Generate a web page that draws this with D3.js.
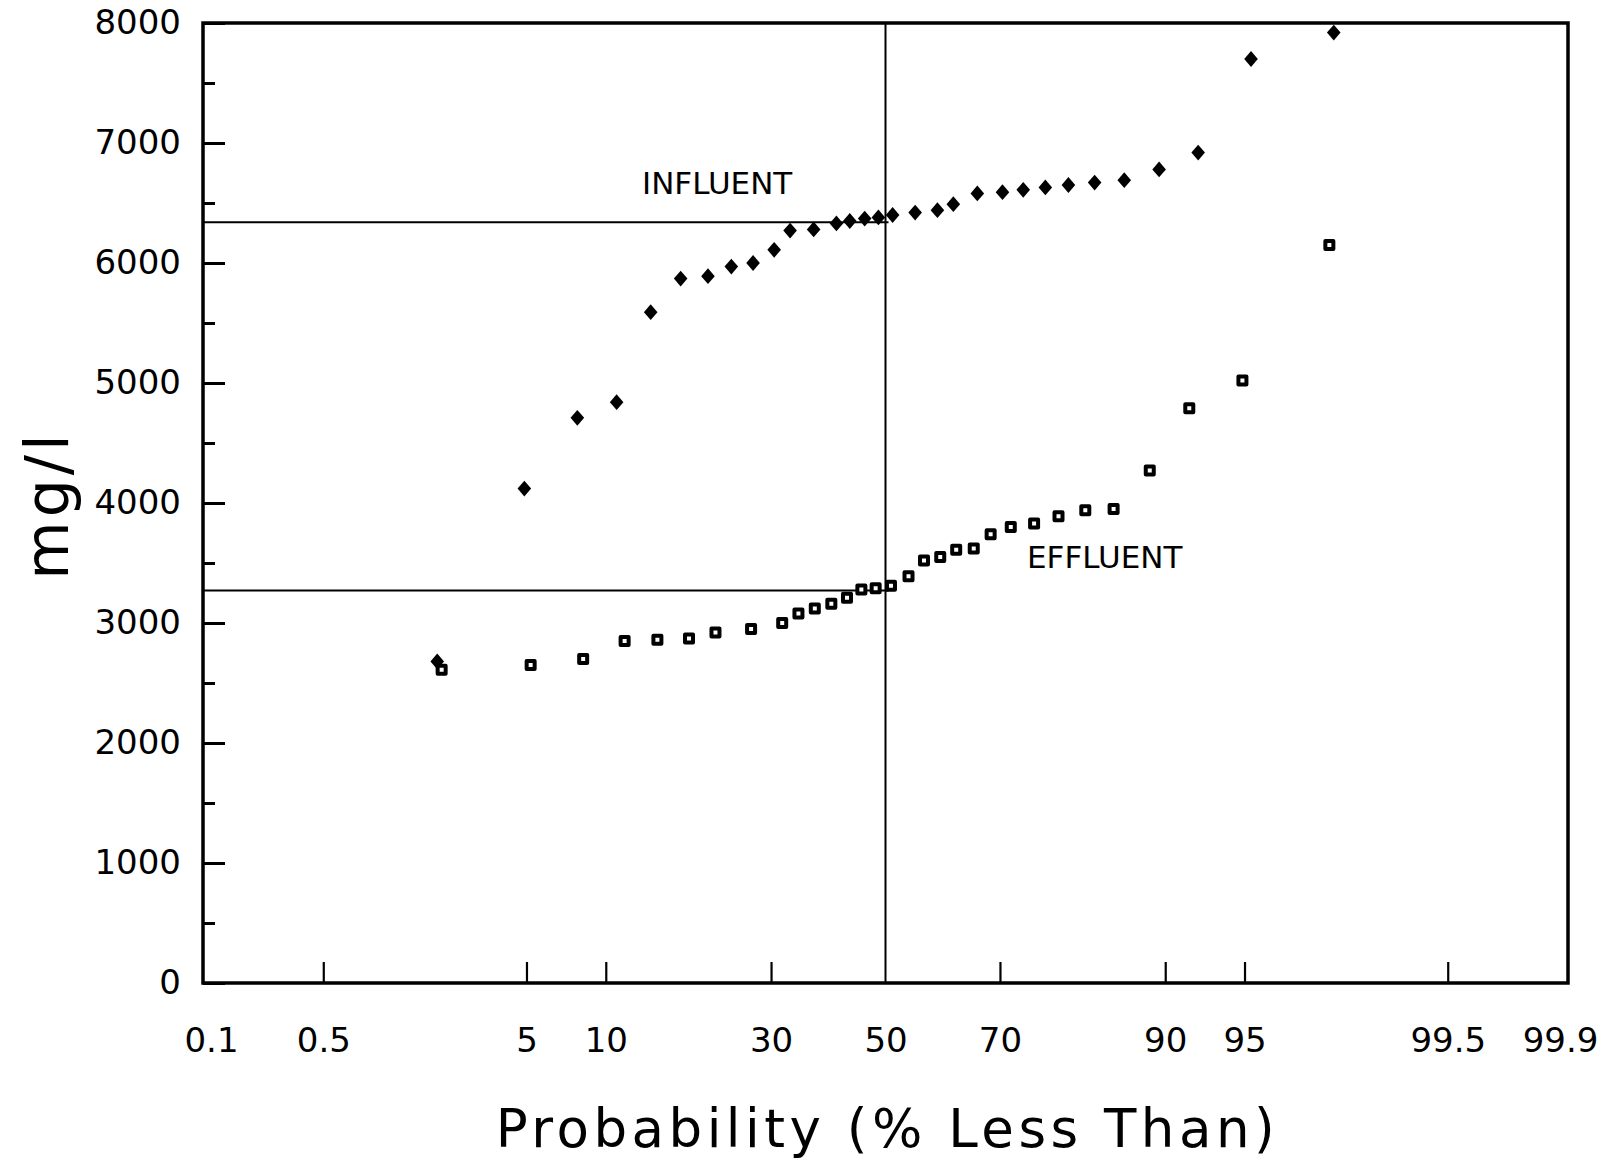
<!DOCTYPE html>
<html>
<head>
<meta charset="utf-8">
<script src="https://cdn.jsdelivr.net/npm/d3@7"></script>
<style>
  html, body { margin: 0; padding: 0; background: #fff; }
  svg { display: block; }
  text { font-family: "DejaVu Sans", "Liberation Sans", sans-serif; fill: #000; }
</style>
</head>
<body>
<svg id="chart" width="1614" height="1161"></svg>
<script>
// Cumulative probability (% less than) of each ranked sample
const influentProb = [2.0, 4.9, 7.9, 10.9, 14.1, 17.4, 20.8, 24.0, 27.2, 30.5, 33.1, 37.1, 41.1, 43.5, 46.2, 48.7,
                      51.3, 55.4, 59.4, 62.2, 66.3, 70.4, 73.6, 76.8, 79.9, 83.1, 86.3, 89.5, 92.4, 95.3, 98.0];
const influentMgL  = [2680, 4120, 4710, 4840, 5590, 5870, 5890, 5970, 6000, 6110, 6270, 6280, 6330, 6350, 6370, 6380,
                      6400, 6420, 6440, 6490, 6580, 6590, 6610, 6630, 6650, 6670, 6690, 6780, 6920, 7700, 7920];
const effluentProb = [2.1, 5.2, 8.3, 11.6, 14.8, 18.4, 21.8, 26.9, 31.8, 34.5, 37.3, 40.2, 43.0, 45.6, 48.2, 51.0,
                      54.2, 57.0, 59.9, 62.7, 65.7, 68.5, 71.7, 75.2, 78.6, 82.0, 85.2, 88.7, 91.8, 94.9, 97.9];
const effluentMgL  = [2610, 2650, 2700, 2850, 2860, 2870, 2920, 2950, 3000, 3080, 3120, 3160, 3210, 3280, 3290, 3310,
                      3390, 3520, 3550, 3610, 3620, 3740, 3800, 3830, 3890, 3940, 3950, 4270, 4790, 5020, 6150];

// Axis ticks
const probTicks = [0.1, 0.5, 5, 10, 30, 50, 70, 90, 95, 99.5, 99.9];
const probTickLabels = ["0.1", "0.5", "5", "10", "30", "50", "70", "90", "95", "99.5", "99.9"];
const concMajorTicks = [0, 1000, 2000, 3000, 4000, 5000, 6000, 7000, 8000];
const concMinorTicks = [500, 1500, 2500, 3500, 4500, 5500, 6500, 7500];

// Median guide lines
const medianProb = 50;
const influentMedian = 6340;
const effluentMedian = 3270;

// Inverse standard normal CDF (Acklam's rational approximation)
function probit(p) {
  const a = [-3.969683028665376e+01, 2.209460984245205e+02, -2.759285104469687e+02,
              1.383577518672690e+02, -3.066479806614716e+01, 2.506628277459239e+00];
  const b = [-5.447609879822406e+01, 1.615858368580409e+02, -1.556989798598866e+02,
              6.680131188771972e+01, -1.328068155288572e+01];
  const c = [-7.784894002430293e-03, -3.223964580411365e-01, -2.400758277161838e+00,
             -2.549671010283767e+00, 4.374664141464968e+00, 2.938163982698783e+00];
  const d = [7.784695709041462e-03, 3.224671290700398e-01, 2.445134137142996e+00,
             3.754408661907416e+00];
  const pl = 0.02425, ph = 1 - pl;
  let q, r;
  if (p < pl) {
    q = Math.sqrt(-2 * Math.log(p));
    return (((((c[0]*q + c[1])*q + c[2])*q + c[3])*q + c[4])*q + c[5]) /
           ((((d[0]*q + d[1])*q + d[2])*q + d[3])*q + 1);
  }
  if (p > ph) {
    q = Math.sqrt(-2 * Math.log(1 - p));
    return -(((((c[0]*q + c[1])*q + c[2])*q + c[3])*q + c[4])*q + c[5]) /
            ((((d[0]*q + d[1])*q + d[2])*q + d[3])*q + 1);
  }
  q = p - 0.5; r = q * q;
  return (((((a[0]*r + a[1])*r + a[2])*r + a[3])*r + a[4])*r + a[5]) * q /
         (((((b[0]*r + b[1])*r + b[2])*r + b[3])*r + b[4])*r + 1);
}
const z = pct => probit(pct / 100);

const plotLeft = 203, plotRight = 1568, plotTop = 23, plotBottom = 983;
const xPad = 8;   // small inset so the end labels sit just inside the frame corners

const svg = d3.select("#chart");

// Normal-probability x scale (linear in z) and linear concentration y scale
const x = d3.scaleLinear().domain([z(0.1), z(99.9)]).range([plotLeft + xPad, plotRight - xPad]);
const xp = pct => x(z(pct));
const y = d3.scaleLinear().domain([0, 8000]).range([plotBottom, plotTop]);

// Y axis: major ticks with labels, minor ticks unlabeled, all pointing inward
const yMajor = svg.append("g")
  .attr("transform", `translate(${plotLeft},0)`)
  .call(d3.axisLeft(y).tickValues(concMajorTicks).tickSize(-22).tickPadding(22).tickFormat(d3.format("d")));
yMajor.select(".domain").remove();
yMajor.selectAll("line").attr("stroke", "#000").attr("stroke-width", 3);
yMajor.selectAll("text").attr("font-size", 34).attr("font-family", "DejaVu Sans, sans-serif").attr("fill", "#000");

const yMinor = svg.append("g")
  .attr("transform", `translate(${plotLeft},0)`)
  .call(d3.axisLeft(y).tickValues(concMinorTicks).tickSize(-12).tickFormat(""));
yMinor.select(".domain").remove();
yMinor.selectAll("line").attr("stroke", "#000").attr("stroke-width", 3);

// X axis on the probability scale; the end values coincide with the frame, 50 with the guide line
const xAxis = svg.append("g")
  .attr("transform", `translate(0,${plotBottom})`)
  .call(d3.axisBottom(x)
    .tickValues(probTicks.map(z))
    .tickSize(-21)
    .tickPadding(45)
    .tickFormat((d, i) => probTickLabels[i]));
xAxis.select(".domain").remove();
xAxis.selectAll(".tick line")
  .attr("stroke", "#000").attr("stroke-width", 2.2)
  .attr("display", (d, i) => (i === 0 || i === probTicks.length - 1 || probTicks[i] === medianProb) ? "none" : null);
xAxis.selectAll("text").attr("font-size", 34).attr("font-family", "DejaVu Sans, sans-serif").attr("fill", "#000");

// Plot frame
svg.append("rect")
  .attr("x", plotLeft).attr("y", plotTop)
  .attr("width", plotRight - plotLeft).attr("height", plotBottom - plotTop)
  .attr("fill", "none").attr("stroke", "#000").attr("stroke-width", 3.5);

// Median guide lines
svg.append("line")
  .attr("x1", xp(medianProb)).attr("x2", xp(medianProb))
  .attr("y1", y(0)).attr("y2", y(8000))
  .attr("stroke", "#000").attr("stroke-width", 2);
svg.append("line")
  .attr("x1", plotLeft).attr("x2", xp(medianProb) + 3)
  .attr("y1", y(influentMedian)).attr("y2", y(influentMedian))
  .attr("stroke", "#000").attr("stroke-width", 2);
svg.append("line")
  .attr("x1", plotLeft).attr("x2", xp(medianProb) + 3)
  .attr("y1", y(effluentMedian)).attr("y2", y(effluentMedian))
  .attr("stroke", "#000").attr("stroke-width", 2);

// Filled diamond marker, slightly taller than wide
const diamond = {
  draw(ctx, size) {
    const r = Math.sqrt(size);
    const w = r * 0.5, h = r * 0.58;
    ctx.moveTo(0, -h); ctx.lineTo(w, 0); ctx.lineTo(0, h); ctx.lineTo(-w, 0); ctx.closePath();
  }
};

const influent = influentProb.map((p, i) => ({ p, v: influentMgL[i] }));
const effluent = effluentProb.map((p, i) => ({ p, v: effluentMgL[i] }));

svg.append("g").selectAll("path")
  .data(influent)
  .join("path")
  .attr("transform", d => `translate(${xp(d.p)},${y(d.v)})`)
  .attr("d", d3.symbol().type(diamond).size(185))
  .attr("fill", "#000");

svg.append("g").selectAll("path")
  .data(effluent)
  .join("path")
  .attr("transform", d => `translate(${xp(d.p)},${y(d.v)})`)
  .attr("d", d3.symbol().type(d3.symbolSquare).size(64))
  .attr("fill", "#fff")
  .attr("stroke", "#000")
  .attr("stroke-width", 4)
  .attr("stroke-linejoin", "round");

// Series annotations
svg.append("text")
  .attr("x", 642).attr("y", 194)
  .attr("font-size", 31)
  .text("INFLUENT");
svg.append("text")
  .attr("x", 1027).attr("y", 568)
  .attr("font-size", 31)
  .text("EFFLUENT");

// Axis titles
svg.append("text")
  .attr("x", (plotLeft + plotRight) / 2 + 2).attr("y", 1147)
  .attr("text-anchor", "middle")
  .attr("font-size", 53)
  .attr("letter-spacing", 4.5)
  .text("Probability (% Less Than)");

svg.append("text")
  .attr("transform", "translate(68,505) rotate(-90)")
  .attr("text-anchor", "middle")
  .attr("font-size", 60)
  .attr("letter-spacing", 4)
  .text("mg/l");
</script>
</body>
</html>
